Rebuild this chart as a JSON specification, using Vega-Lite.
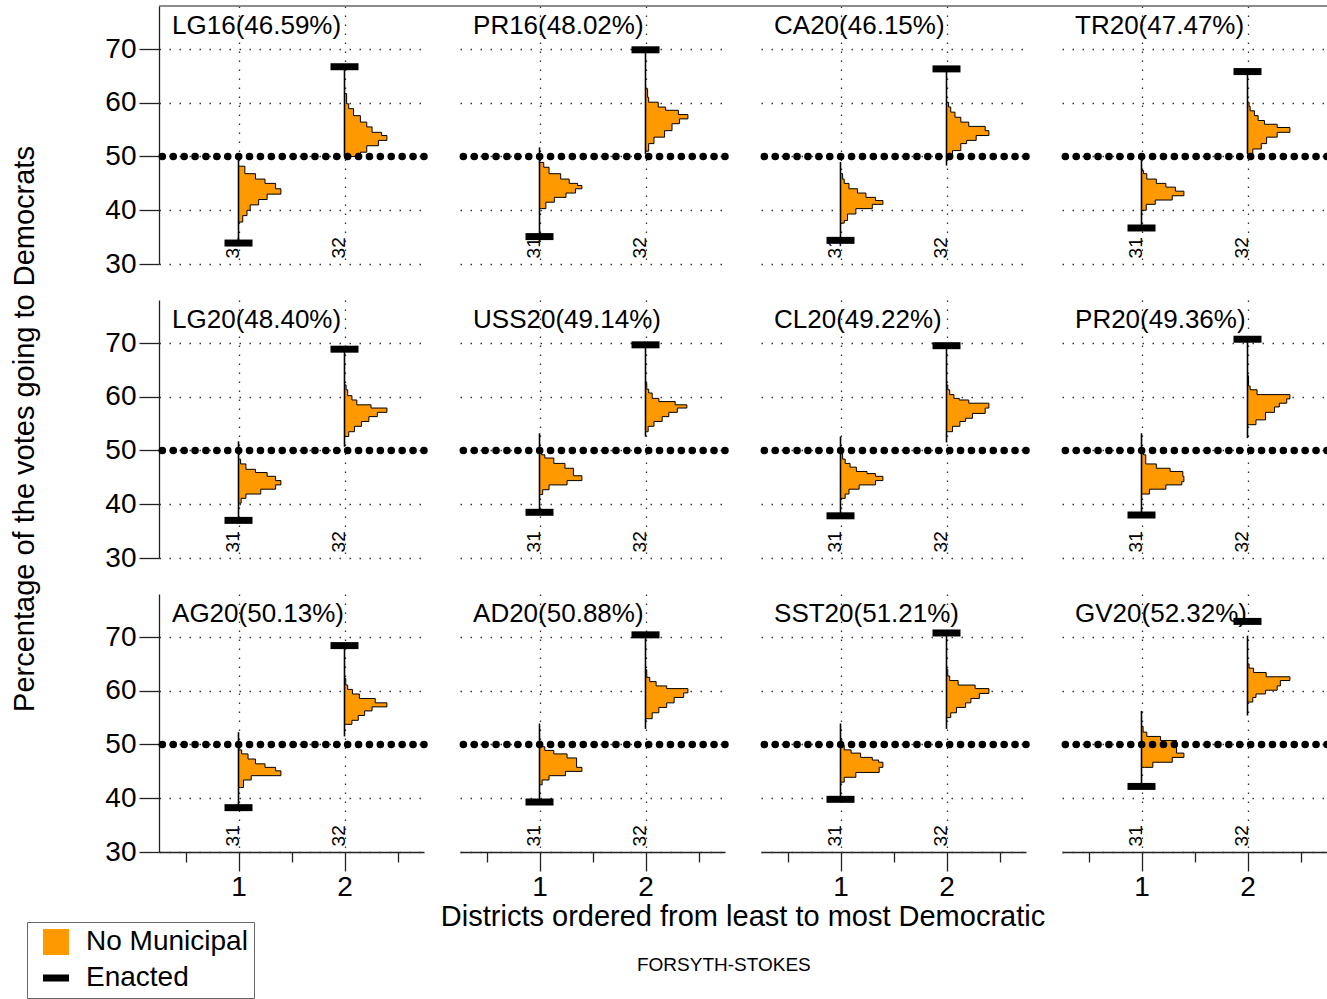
{
  "$schema": "https://vega.github.io/schema/vega-lite/v6.json",
  "autosize": {"type": "pad"},
  "padding": {"left": 10, "top": 5, "right": 0, "bottom": 0},
  "background": "white",
  "bounds": "flush",
  "config": {
    "view": {"stroke": null},
    "font": "Liberation Sans",
    "text": {"font": "Liberation Sans", "color": "black"}
  },
  "title": {"text": "FORSYTH-STOKES", "orient": "bottom", "frame": "bounds", "anchor": "middle", "fontSize": 19, "fontWeight": "normal", "font": "Liberation Sans", "color": "black", "offset": -43, "dx": 53},
  "data": {"values": [
    {"k":"p","r":1,"c":1,"t":"LG16(46.59%)"},{"k":"p","r":1,"c":2,"t":"PR16(48.02%)"},{"k":"p","r":1,"c":3,"t":"CA20(46.15%)"},{"k":"p","r":1,"c":4,"t":"TR20(47.47%)"},
    {"k":"p","r":2,"c":1,"t":"LG20(48.40%)"},{"k":"p","r":2,"c":2,"t":"USS20(49.14%)"},{"k":"p","r":2,"c":3,"t":"CL20(49.22%)"},{"k":"p","r":2,"c":4,"t":"PR20(49.36%)"},
    {"k":"p","r":3,"c":1,"t":"AG20(50.13%)"},{"k":"p","r":3,"c":2,"t":"AD20(50.88%)"},{"k":"p","r":3,"c":3,"t":"SST20(51.21%)"},{"k":"p","r":3,"c":4,"t":"GV20(52.32%)"},

    {"k":"d","r":1,"c":1,"d":1,"e":33.9,"lo":33.9,"hi":50.0,"lab":"31"},{"k":"d","r":1,"c":1,"d":2,"e":66.7,"lo":50.0,"hi":66.7,"lab":"32"},
    {"k":"d","r":1,"c":2,"d":1,"e":35.1,"lo":35.1,"hi":51.7,"lab":"31"},{"k":"d","r":1,"c":2,"d":2,"e":69.85,"lo":50.5,"hi":69.85,"lab":"32"},
    {"k":"d","r":1,"c":3,"d":1,"e":34.4,"lo":34.4,"hi":49.0,"lab":"31"},{"k":"d","r":1,"c":3,"d":2,"e":66.3,"lo":48.3,"hi":66.3,"lab":"32"},
    {"k":"d","r":1,"c":4,"d":1,"e":36.7,"lo":36.7,"hi":50.5,"lab":"31"},{"k":"d","r":1,"c":4,"d":2,"e":65.8,"lo":50.5,"hi":65.8,"lab":"32"},
    {"k":"d","r":2,"c":1,"d":1,"e":37.0,"lo":37.0,"hi":51.7,"lab":"31"},{"k":"d","r":2,"c":1,"d":2,"e":68.85,"lo":50.7,"hi":68.85,"lab":"32"},
    {"k":"d","r":2,"c":2,"d":1,"e":38.5,"lo":38.5,"hi":53.2,"lab":"31"},{"k":"d","r":2,"c":2,"d":2,"e":69.66,"lo":52.6,"hi":69.66,"lab":"32"},
    {"k":"d","r":2,"c":3,"d":1,"e":37.85,"lo":37.85,"hi":52.6,"lab":"31"},{"k":"d","r":2,"c":3,"d":2,"e":69.5,"lo":51.5,"hi":69.5,"lab":"32"},
    {"k":"d","r":2,"c":4,"d":1,"e":38.0,"lo":38.0,"hi":53.2,"lab":"31"},{"k":"d","r":2,"c":4,"d":2,"e":70.7,"lo":52.3,"hi":70.7,"lab":"32"},
    {"k":"d","r":3,"c":1,"d":1,"e":38.25,"lo":38.25,"hi":52.3,"lab":"31"},{"k":"d","r":3,"c":1,"d":2,"e":68.4,"lo":51.5,"hi":68.4,"lab":"32"},
    {"k":"d","r":3,"c":2,"d":1,"e":39.3,"lo":39.3,"hi":53.9,"lab":"31"},{"k":"d","r":3,"c":2,"d":2,"e":70.4,"lo":52.9,"hi":70.4,"lab":"32"},
    {"k":"d","r":3,"c":3,"d":1,"e":39.8,"lo":39.8,"hi":53.9,"lab":"31"},{"k":"d","r":3,"c":3,"d":2,"e":70.75,"lo":52.9,"hi":70.75,"lab":"32"},
    {"k":"d","r":3,"c":4,"d":1,"e":42.2,"lo":42.2,"hi":56.25,"lab":"31"},{"k":"d","r":3,"c":4,"d":2,"e":72.9,"lo":55.4,"hi":70.25,"lab":"32"},

    {"k":"h","r":1,"c":1,"d":1,"v":37.8,"w":0.015},{"k":"h","r":1,"c":1,"d":1,"v":39.0,"w":0.04},{"k":"h","r":1,"c":1,"d":1,"v":40.0,"w":0.08},{"k":"h","r":1,"c":1,"d":1,"v":41.0,"w":0.11},{"k":"h","r":1,"c":1,"d":1,"v":42.0,"w":0.19},{"k":"h","r":1,"c":1,"d":1,"v":43.0,"w":0.27},{"k":"h","r":1,"c":1,"d":1,"v":44.0,"w":0.40},{"k":"h","r":1,"c":1,"d":1,"v":45.0,"w":0.35},{"k":"h","r":1,"c":1,"d":1,"v":45.8,"w":0.25},{"k":"h","r":1,"c":1,"d":1,"v":46.8,"w":0.16},{"k":"h","r":1,"c":1,"d":1,"v":48.2,"w":0.06},{"k":"h","r":1,"c":1,"d":1,"v":49.3,"w":0},
    {"k":"h","r":1,"c":1,"d":2,"v":50.0,"w":0.07},{"k":"h","r":1,"c":1,"d":2,"v":50.8,"w":0.15},{"k":"h","r":1,"c":1,"d":2,"v":52.0,"w":0.21},{"k":"h","r":1,"c":1,"d":2,"v":53.0,"w":0.32},{"k":"h","r":1,"c":1,"d":2,"v":53.9,"w":0.40},{"k":"h","r":1,"c":1,"d":2,"v":54.5,"w":0.35},{"k":"h","r":1,"c":1,"d":2,"v":55.5,"w":0.26},{"k":"h","r":1,"c":1,"d":2,"v":56.4,"w":0.21},{"k":"h","r":1,"c":1,"d":2,"v":57.6,"w":0.15},{"k":"h","r":1,"c":1,"d":2,"v":58.9,"w":0.085},{"k":"h","r":1,"c":1,"d":2,"v":59.8,"w":0.04},{"k":"h","r":1,"c":1,"d":2,"v":61.7,"w":0.02},{"k":"h","r":1,"c":1,"d":2,"v":62.6,"w":0},

    {"k":"h","r":1,"c":2,"d":1,"v":40.3,"w":0.02},{"k":"h","r":1,"c":2,"d":1,"v":41.5,"w":0.06},{"k":"h","r":1,"c":2,"d":1,"v":42.4,"w":0.14},{"k":"h","r":1,"c":2,"d":1,"v":43.2,"w":0.25},{"k":"h","r":1,"c":2,"d":1,"v":44.0,"w":0.34},{"k":"h","r":1,"c":2,"d":1,"v":44.6,"w":0.40},{"k":"h","r":1,"c":2,"d":1,"v":45.0,"w":0.36},{"k":"h","r":1,"c":2,"d":1,"v":45.8,"w":0.28},{"k":"h","r":1,"c":2,"d":1,"v":46.8,"w":0.20},{"k":"h","r":1,"c":2,"d":1,"v":48.0,"w":0.09},{"k":"h","r":1,"c":2,"d":1,"v":48.9,"w":0.04},{"k":"h","r":1,"c":2,"d":1,"v":49.9,"w":0},
    {"k":"h","r":1,"c":2,"d":2,"v":51.0,"w":0.01},{"k":"h","r":1,"c":2,"d":2,"v":52.4,"w":0.03},{"k":"h","r":1,"c":2,"d":2,"v":53.6,"w":0.08},{"k":"h","r":1,"c":2,"d":2,"v":54.8,"w":0.18},{"k":"h","r":1,"c":2,"d":2,"v":56.1,"w":0.25},{"k":"h","r":1,"c":2,"d":2,"v":57.0,"w":0.32},{"k":"h","r":1,"c":2,"d":2,"v":57.8,"w":0.40},{"k":"h","r":1,"c":2,"d":2,"v":58.6,"w":0.31},{"k":"h","r":1,"c":2,"d":2,"v":59.2,"w":0.19},{"k":"h","r":1,"c":2,"d":2,"v":60.1,"w":0.12},{"k":"h","r":1,"c":2,"d":2,"v":61.0,"w":0.03},{"k":"h","r":1,"c":2,"d":2,"v":62.6,"w":0.02},{"k":"h","r":1,"c":2,"d":2,"v":63.8,"w":0},

    {"k":"h","r":1,"c":3,"d":1,"v":37.6,"w":0.01},{"k":"h","r":1,"c":3,"d":1,"v":38.1,"w":0.035},{"k":"h","r":1,"c":3,"d":1,"v":39.3,"w":0.066},{"k":"h","r":1,"c":3,"d":1,"v":40.3,"w":0.145},{"k":"h","r":1,"c":3,"d":1,"v":41.1,"w":0.30},{"k":"h","r":1,"c":3,"d":1,"v":41.8,"w":0.40},{"k":"h","r":1,"c":3,"d":1,"v":42.4,"w":0.33},{"k":"h","r":1,"c":3,"d":1,"v":43.2,"w":0.24},{"k":"h","r":1,"c":3,"d":1,"v":44.0,"w":0.16},{"k":"h","r":1,"c":3,"d":1,"v":45.0,"w":0.08},{"k":"h","r":1,"c":3,"d":1,"v":45.8,"w":0.035},{"k":"h","r":1,"c":3,"d":1,"v":46.8,"w":0.02},{"k":"h","r":1,"c":3,"d":1,"v":48.3,"w":0},
    {"k":"h","r":1,"c":3,"d":2,"v":49.9,"w":0.02},{"k":"h","r":1,"c":3,"d":2,"v":51.1,"w":0.057},{"k":"h","r":1,"c":3,"d":2,"v":52.4,"w":0.135},{"k":"h","r":1,"c":3,"d":2,"v":53.0,"w":0.19},{"k":"h","r":1,"c":3,"d":2,"v":53.9,"w":0.28},{"k":"h","r":1,"c":3,"d":2,"v":54.8,"w":0.40},{"k":"h","r":1,"c":3,"d":2,"v":55.6,"w":0.365},{"k":"h","r":1,"c":3,"d":2,"v":56.4,"w":0.21},{"k":"h","r":1,"c":3,"d":2,"v":57.3,"w":0.135},{"k":"h","r":1,"c":3,"d":2,"v":58.25,"w":0.08},{"k":"h","r":1,"c":3,"d":2,"v":59.2,"w":0.04},{"k":"h","r":1,"c":3,"d":2,"v":60.1,"w":0.02},{"k":"h","r":1,"c":3,"d":2,"v":61.0,"w":0},

    {"k":"h","r":1,"c":4,"d":1,"v":40.0,"w":0.015},{"k":"h","r":1,"c":4,"d":1,"v":41.1,"w":0.045},{"k":"h","r":1,"c":4,"d":1,"v":41.9,"w":0.13},{"k":"h","r":1,"c":4,"d":1,"v":42.7,"w":0.29},{"k":"h","r":1,"c":4,"d":1,"v":43.55,"w":0.40},{"k":"h","r":1,"c":4,"d":1,"v":44.3,"w":0.32},{"k":"h","r":1,"c":4,"d":1,"v":45.0,"w":0.23},{"k":"h","r":1,"c":4,"d":1,"v":45.8,"w":0.14},{"k":"h","r":1,"c":4,"d":1,"v":46.8,"w":0.05},{"k":"h","r":1,"c":4,"d":1,"v":47.4,"w":0.02},{"k":"h","r":1,"c":4,"d":1,"v":48.3,"w":0},
    {"k":"h","r":1,"c":4,"d":2,"v":50.5,"w":0.013},{"k":"h","r":1,"c":4,"d":2,"v":51.4,"w":0.05},{"k":"h","r":1,"c":4,"d":2,"v":52.4,"w":0.13},{"k":"h","r":1,"c":4,"d":2,"v":53.6,"w":0.18},{"k":"h","r":1,"c":4,"d":2,"v":54.5,"w":0.28},{"k":"h","r":1,"c":4,"d":2,"v":55.4,"w":0.40},{"k":"h","r":1,"c":4,"d":2,"v":56.0,"w":0.28},{"k":"h","r":1,"c":4,"d":2,"v":56.7,"w":0.16},{"k":"h","r":1,"c":4,"d":2,"v":57.6,"w":0.10},{"k":"h","r":1,"c":4,"d":2,"v":58.5,"w":0.066},{"k":"h","r":1,"c":4,"d":2,"v":59.3,"w":0.025},{"k":"h","r":1,"c":4,"d":2,"v":60.1,"w":0.015},{"k":"h","r":1,"c":4,"d":2,"v":61.0,"w":0},

    {"k":"h","r":2,"c":1,"d":1,"v":40.2,"w":0.01},{"k":"h","r":2,"c":1,"d":1,"v":41.1,"w":0.025},{"k":"h","r":2,"c":1,"d":1,"v":41.9,"w":0.07},{"k":"h","r":2,"c":1,"d":1,"v":42.8,"w":0.21},{"k":"h","r":2,"c":1,"d":1,"v":43.6,"w":0.35},{"k":"h","r":2,"c":1,"d":1,"v":44.4,"w":0.40},{"k":"h","r":2,"c":1,"d":1,"v":45.2,"w":0.35},{"k":"h","r":2,"c":1,"d":1,"v":45.9,"w":0.27},{"k":"h","r":2,"c":1,"d":1,"v":46.5,"w":0.16},{"k":"h","r":2,"c":1,"d":1,"v":47.5,"w":0.07},{"k":"h","r":2,"c":1,"d":1,"v":48.4,"w":0.02},{"k":"h","r":2,"c":1,"d":1,"v":49.5,"w":0},
    {"k":"h","r":2,"c":1,"d":2,"v":52.6,"w":0.013},{"k":"h","r":2,"c":1,"d":2,"v":53.5,"w":0.04},{"k":"h","r":2,"c":1,"d":2,"v":54.5,"w":0.094},{"k":"h","r":2,"c":1,"d":2,"v":55.4,"w":0.16},{"k":"h","r":2,"c":1,"d":2,"v":56.3,"w":0.23},{"k":"h","r":2,"c":1,"d":2,"v":57.1,"w":0.31},{"k":"h","r":2,"c":1,"d":2,"v":57.9,"w":0.40},{"k":"h","r":2,"c":1,"d":2,"v":58.5,"w":0.25},{"k":"h","r":2,"c":1,"d":2,"v":59.4,"w":0.116},{"k":"h","r":2,"c":1,"d":2,"v":60.2,"w":0.07},{"k":"h","r":2,"c":1,"d":2,"v":61.3,"w":0.03},{"k":"h","r":2,"c":1,"d":2,"v":62.2,"w":0.015},{"k":"h","r":2,"c":1,"d":2,"v":63.5,"w":0},

    {"k":"h","r":2,"c":2,"d":1,"v":41.8,"w":0.01},{"k":"h","r":2,"c":2,"d":1,"v":42.7,"w":0.03},{"k":"h","r":2,"c":2,"d":1,"v":43.6,"w":0.09},{"k":"h","r":2,"c":2,"d":1,"v":44.4,"w":0.26},{"k":"h","r":2,"c":2,"d":1,"v":45.3,"w":0.40},{"k":"h","r":2,"c":2,"d":1,"v":46.7,"w":0.32},{"k":"h","r":2,"c":2,"d":1,"v":47.6,"w":0.24},{"k":"h","r":2,"c":2,"d":1,"v":48.6,"w":0.135},{"k":"h","r":2,"c":2,"d":1,"v":49.2,"w":0.05},{"k":"h","r":2,"c":2,"d":1,"v":50.0,"w":0.02},{"k":"h","r":2,"c":2,"d":1,"v":50.7,"w":0},
    {"k":"h","r":2,"c":2,"d":2,"v":53.5,"w":0.01},{"k":"h","r":2,"c":2,"d":2,"v":54.5,"w":0.025},{"k":"h","r":2,"c":2,"d":2,"v":55.4,"w":0.08},{"k":"h","r":2,"c":2,"d":2,"v":56.3,"w":0.157},{"k":"h","r":2,"c":2,"d":2,"v":57.1,"w":0.22},{"k":"h","r":2,"c":2,"d":2,"v":57.9,"w":0.30},{"k":"h","r":2,"c":2,"d":2,"v":58.5,"w":0.39},{"k":"h","r":2,"c":2,"d":2,"v":59.1,"w":0.28},{"k":"h","r":2,"c":2,"d":2,"v":59.7,"w":0.126},{"k":"h","r":2,"c":2,"d":2,"v":60.7,"w":0.063},{"k":"h","r":2,"c":2,"d":2,"v":61.4,"w":0.03},{"k":"h","r":2,"c":2,"d":2,"v":62.5,"w":0.012},{"k":"h","r":2,"c":2,"d":2,"v":63.6,"w":0},

    {"k":"h","r":2,"c":3,"d":1,"v":41.1,"w":0.02},{"k":"h","r":2,"c":3,"d":1,"v":41.9,"w":0.044},{"k":"h","r":2,"c":3,"d":1,"v":42.8,"w":0.08},{"k":"h","r":2,"c":3,"d":1,"v":43.6,"w":0.176},{"k":"h","r":2,"c":3,"d":1,"v":44.4,"w":0.33},{"k":"h","r":2,"c":3,"d":1,"v":45.2,"w":0.40},{"k":"h","r":2,"c":3,"d":1,"v":45.7,"w":0.33},{"k":"h","r":2,"c":3,"d":1,"v":46.1,"w":0.25},{"k":"h","r":2,"c":3,"d":1,"v":46.9,"w":0.15},{"k":"h","r":2,"c":3,"d":1,"v":47.6,"w":0.09},{"k":"h","r":2,"c":3,"d":1,"v":48.4,"w":0.044},{"k":"h","r":2,"c":3,"d":1,"v":49.4,"w":0.02},{"k":"h","r":2,"c":3,"d":1,"v":50.1,"w":0},
    {"k":"h","r":2,"c":3,"d":2,"v":53.5,"w":0.02},{"k":"h","r":2,"c":3,"d":2,"v":54.5,"w":0.057},{"k":"h","r":2,"c":3,"d":2,"v":55.4,"w":0.126},{"k":"h","r":2,"c":3,"d":2,"v":56.0,"w":0.18},{"k":"h","r":2,"c":3,"d":2,"v":56.9,"w":0.245},{"k":"h","r":2,"c":3,"d":2,"v":57.9,"w":0.365},{"k":"h","r":2,"c":3,"d":2,"v":58.8,"w":0.40},{"k":"h","r":2,"c":3,"d":2,"v":59.4,"w":0.21},{"k":"h","r":2,"c":3,"d":2,"v":59.7,"w":0.12},{"k":"h","r":2,"c":3,"d":2,"v":60.4,"w":0.07},{"k":"h","r":2,"c":3,"d":2,"v":61.3,"w":0.03},{"k":"h","r":2,"c":3,"d":2,"v":62.2,"w":0.012},{"k":"h","r":2,"c":3,"d":2,"v":63.5,"w":0},

    {"k":"h","r":2,"c":4,"d":1,"v":41.9,"w":0.015},{"k":"h","r":2,"c":4,"d":1,"v":42.8,"w":0.075},{"k":"h","r":2,"c":4,"d":1,"v":43.6,"w":0.23},{"k":"h","r":2,"c":4,"d":1,"v":44.2,"w":0.38},{"k":"h","r":2,"c":4,"d":1,"v":45.2,"w":0.40},{"k":"h","r":2,"c":4,"d":1,"v":46.1,"w":0.39},{"k":"h","r":2,"c":4,"d":1,"v":46.7,"w":0.27},{"k":"h","r":2,"c":4,"d":1,"v":47.5,"w":0.14},{"k":"h","r":2,"c":4,"d":1,"v":49.2,"w":0.04},{"k":"h","r":2,"c":4,"d":1,"v":50.0,"w":0.02},{"k":"h","r":2,"c":4,"d":1,"v":50.7,"w":0},
    {"k":"h","r":2,"c":4,"d":2,"v":54.8,"w":0.02},{"k":"h","r":2,"c":4,"d":2,"v":55.7,"w":0.08},{"k":"h","r":2,"c":4,"d":2,"v":57.1,"w":0.17},{"k":"h","r":2,"c":4,"d":2,"v":58.1,"w":0.255},{"k":"h","r":2,"c":4,"d":2,"v":58.8,"w":0.30},{"k":"h","r":2,"c":4,"d":2,"v":59.6,"w":0.37},{"k":"h","r":2,"c":4,"d":2,"v":60.4,"w":0.40},{"k":"h","r":2,"c":4,"d":2,"v":61.3,"w":0.09},{"k":"h","r":2,"c":4,"d":2,"v":62.0,"w":0.025},{"k":"h","r":2,"c":4,"d":2,"v":63.9,"w":0.01},{"k":"h","r":2,"c":4,"d":2,"v":64.7,"w":0},

    {"k":"h","r":3,"c":1,"d":1,"v":42.0,"w":0.02},{"k":"h","r":3,"c":1,"d":1,"v":43.4,"w":0.047},{"k":"h","r":3,"c":1,"d":1,"v":44.2,"w":0.12},{"k":"h","r":3,"c":1,"d":1,"v":45.1,"w":0.40},{"k":"h","r":3,"c":1,"d":1,"v":45.75,"w":0.35},{"k":"h","r":3,"c":1,"d":1,"v":46.4,"w":0.25},{"k":"h","r":3,"c":1,"d":1,"v":47.3,"w":0.16},{"k":"h","r":3,"c":1,"d":1,"v":48.25,"w":0.09},{"k":"h","r":3,"c":1,"d":1,"v":49.0,"w":0.03},{"k":"h","r":3,"c":1,"d":1,"v":49.8,"w":0},
    {"k":"h","r":3,"c":1,"d":2,"v":53.75,"w":0.02},{"k":"h","r":3,"c":1,"d":2,"v":54.5,"w":0.07},{"k":"h","r":3,"c":1,"d":2,"v":55.4,"w":0.13},{"k":"h","r":3,"c":1,"d":2,"v":56.25,"w":0.19},{"k":"h","r":3,"c":1,"d":2,"v":57.0,"w":0.26},{"k":"h","r":3,"c":1,"d":2,"v":57.75,"w":0.40},{"k":"h","r":3,"c":1,"d":2,"v":58.56,"w":0.29},{"k":"h","r":3,"c":1,"d":2,"v":59.4,"w":0.14},{"k":"h","r":3,"c":1,"d":2,"v":60.25,"w":0.075},{"k":"h","r":3,"c":1,"d":2,"v":61.06,"w":0.03},{"k":"h","r":3,"c":1,"d":2,"v":62.3,"w":0.012},{"k":"h","r":3,"c":1,"d":2,"v":63.6,"w":0},

    {"k":"h","r":3,"c":2,"d":1,"v":42.5,"w":0.01},{"k":"h","r":3,"c":2,"d":1,"v":43.4,"w":0.025},{"k":"h","r":3,"c":2,"d":1,"v":44.2,"w":0.09},{"k":"h","r":3,"c":2,"d":1,"v":45.0,"w":0.245},{"k":"h","r":3,"c":2,"d":1,"v":45.75,"w":0.40},{"k":"h","r":3,"c":2,"d":1,"v":47.5,"w":0.35},{"k":"h","r":3,"c":2,"d":1,"v":48.25,"w":0.26},{"k":"h","r":3,"c":2,"d":1,"v":48.9,"w":0.135},{"k":"h","r":3,"c":2,"d":1,"v":49.6,"w":0.05},{"k":"h","r":3,"c":2,"d":1,"v":50.6,"w":0.02},{"k":"h","r":3,"c":2,"d":1,"v":51.4,"w":0},
    {"k":"h","r":3,"c":2,"d":2,"v":54.8,"w":0.025},{"k":"h","r":3,"c":2,"d":2,"v":55.9,"w":0.063},{"k":"h","r":3,"c":2,"d":2,"v":56.9,"w":0.126},{"k":"h","r":3,"c":2,"d":2,"v":57.75,"w":0.20},{"k":"h","r":3,"c":2,"d":2,"v":58.75,"w":0.27},{"k":"h","r":3,"c":2,"d":2,"v":59.6,"w":0.36},{"k":"h","r":3,"c":2,"d":2,"v":60.4,"w":0.40},{"k":"h","r":3,"c":2,"d":2,"v":60.9,"w":0.20},{"k":"h","r":3,"c":2,"d":2,"v":61.7,"w":0.10},{"k":"h","r":3,"c":2,"d":2,"v":62.5,"w":0.04},{"k":"h","r":3,"c":2,"d":2,"v":63.9,"w":0.012},{"k":"h","r":3,"c":2,"d":2,"v":64.8,"w":0},

    {"k":"h","r":3,"c":3,"d":1,"v":43.0,"w":0.012},{"k":"h","r":3,"c":3,"d":1,"v":43.9,"w":0.035},{"k":"h","r":3,"c":3,"d":1,"v":44.8,"w":0.145},{"k":"h","r":3,"c":3,"d":1,"v":45.75,"w":0.365},{"k":"h","r":3,"c":3,"d":1,"v":46.7,"w":0.40},{"k":"h","r":3,"c":3,"d":1,"v":47.1,"w":0.36},{"k":"h","r":3,"c":3,"d":1,"v":47.6,"w":0.30},{"k":"h","r":3,"c":3,"d":1,"v":48.4,"w":0.19},{"k":"h","r":3,"c":3,"d":1,"v":49.0,"w":0.10},{"k":"h","r":3,"c":3,"d":1,"v":49.8,"w":0.035},{"k":"h","r":3,"c":3,"d":1,"v":51.06,"w":0.012},{"k":"h","r":3,"c":3,"d":1,"v":51.7,"w":0},
    {"k":"h","r":3,"c":3,"d":2,"v":55.0,"w":0.013},{"k":"h","r":3,"c":3,"d":2,"v":55.9,"w":0.04},{"k":"h","r":3,"c":3,"d":2,"v":56.9,"w":0.094},{"k":"h","r":3,"c":3,"d":2,"v":57.75,"w":0.18},{"k":"h","r":3,"c":3,"d":2,"v":58.56,"w":0.23},{"k":"h","r":3,"c":3,"d":2,"v":59.5,"w":0.31},{"k":"h","r":3,"c":3,"d":2,"v":60.4,"w":0.40},{"k":"h","r":3,"c":3,"d":2,"v":61.06,"w":0.27},{"k":"h","r":3,"c":3,"d":2,"v":61.9,"w":0.11},{"k":"h","r":3,"c":3,"d":2,"v":62.75,"w":0.03},{"k":"h","r":3,"c":3,"d":2,"v":64.0,"w":0.012},{"k":"h","r":3,"c":3,"d":2,"v":65.1,"w":0},

    {"k":"h","r":3,"c":4,"d":1,"v":45.75,"w":0.03},{"k":"h","r":3,"c":4,"d":1,"v":46.7,"w":0.107},{"k":"h","r":3,"c":4,"d":1,"v":47.6,"w":0.29},{"k":"h","r":3,"c":4,"d":1,"v":48.4,"w":0.40},{"k":"h","r":3,"c":4,"d":1,"v":50.75,"w":0.33},{"k":"h","r":3,"c":4,"d":1,"v":51.5,"w":0.18},{"k":"h","r":3,"c":4,"d":1,"v":52.3,"w":0.05},{"k":"h","r":3,"c":4,"d":1,"v":53.4,"w":0.015},{"k":"h","r":3,"c":4,"d":1,"v":54.2,"w":0},
    {"k":"h","r":3,"c":4,"d":2,"v":57.9,"w":0.013},{"k":"h","r":3,"c":4,"d":2,"v":58.75,"w":0.05},{"k":"h","r":3,"c":4,"d":2,"v":59.4,"w":0.08},{"k":"h","r":3,"c":4,"d":2,"v":60.1,"w":0.17},{"k":"h","r":3,"c":4,"d":2,"v":60.9,"w":0.28},{"k":"h","r":3,"c":4,"d":2,"v":61.9,"w":0.31},{"k":"h","r":3,"c":4,"d":2,"v":62.6,"w":0.40},{"k":"h","r":3,"c":4,"d":2,"v":63.4,"w":0.176},{"k":"h","r":3,"c":4,"d":2,"v":64.2,"w":0.057},{"k":"h","r":3,"c":4,"d":2,"v":65.0,"w":0.015},{"k":"h","r":3,"c":4,"d":2,"v":66.7,"w":0}
  ]},
  "facet": {
    "row": {"field": "r", "type": "ordinal", "title": "Percentage of the votes going to Democrats",
      "header": {"labels": false, "titleFontSize": 29, "titleFontWeight": "normal", "titleFont": "Liberation Sans", "titleColor": "black", "titlePadding": 54}},
    "column": {"field": "c", "type": "ordinal", "title": "Districts ordered from least to most Democratic",
      "header": {"labels": false, "titleOrient": "bottom", "titleFontSize": 29, "titleFontWeight": "normal", "titleFont": "Liberation Sans", "titleColor": "black", "titlePadding": -8}}
  },
  "spacing": {"row": 36, "column": 36},
  "spec": {
    "width": 265,
    "height": 258,
    "layer": [
      {
        "transform": [{"filter": "datum.k === 'p' && datum.r === 1 && datum.c < 4"}],
        "mark": {"type": "rule", "color": "#666666", "strokeWidth": 1.6},
        "encoding": {
          "x": {"datum": 0.25, "type": "quantitative"},
          "x2": {"datum": 3.09},
          "y": {"datum": 78, "type": "quantitative"}
        }
      },
      {
        "transform": [{"filter": "datum.k === 'p' && datum.r === 1 && datum.c === 4"}],
        "mark": {"type": "rule", "color": "#666666", "strokeWidth": 1.6},
        "encoding": {
          "x": {"datum": 0.25, "type": "quantitative"},
          "x2": {"datum": 2.75},
          "y": {"datum": 78, "type": "quantitative"}
        }
      },
      {
        "transform": [{"filter": "datum.k === 'p'"}],
        "mark": {"type": "text", "align": "left", "baseline": "middle", "fontSize": 26, "font": "Liberation Sans", "color": "black"},
        "encoding": {
          "x": {"datum": 0.373, "type": "quantitative"},
          "y": {"datum": 74.3, "type": "quantitative"},
          "text": {"field": "t"}
        }
      },
      {
        "transform": [{"filter": "datum.k === 'h'"}, {"calculate": "datum.d + datum.w", "as": "xe"}],
        "mark": {"type": "area", "orient": "horizontal", "interpolate": "step-before", "stroke": "black", "strokeWidth": 1, "fillOpacity": 1},
        "encoding": {
          "x": {"field": "xe", "type": "quantitative", "title": null,
            "scale": {"domain": [0.25, 2.75], "nice": false, "zero": false},
            "axis": {"values": [0.5, 1, 1.5, 2, 2.5],
              "labelExpr": "datum.value % 1 === 0 ? '' + datum.value : ''",
              "tickSize": {"condition": {"test": "datum.value % 1 === 0", "value": 19}, "value": 10},
              "labelFontSize": 28, "labelFont": "Liberation Sans", "labelColor": "black", "labelPadding": 2,
              "tickColor": "#222222", "tickWidth": 1.3, "domainColor": "#222222", "domainWidth": 1.3,
              "grid": true, "gridDash": [1.5, 7.5], "gridColor": "#333333", "gridWidth": 1.3,
              "gridOpacity": {"condition": {"test": "datum.value % 1 === 0", "value": 1}, "value": 0}}},
          "x2": {"field": "d"},
          "y": {"field": "v", "type": "quantitative", "title": null,
            "scale": {"domain": [30, 78], "nice": false, "zero": false},
            "axis": {"values": [30, 35, 40, 45, 50, 55, 60, 65, 70, 75],
              "labelExpr": "datum.value % 10 === 0 ? '' + datum.value : ''",
              "tickSize": {"condition": {"test": "datum.value % 10 === 0", "value": 20}, "value": 10},
              "labelFontSize": 28, "labelFont": "Liberation Sans", "labelColor": "black", "labelPadding": 3,
              "tickColor": "#222222", "tickWidth": 1.3, "domainColor": "#222222", "domainWidth": 1.3,
              "grid": true, "gridDash": [1.5, 8.5], "gridColor": "#333333", "gridWidth": 1.3,
              "gridOpacity": {"condition": {"test": "datum.value % 10 === 0", "value": 1}, "value": 0}}},
          "detail": {"field": "d"},
          "color": {"datum": "No Municipal", "type": "nominal",
            "scale": {"domain": ["No Municipal", "Enacted"], "range": ["#FF9900", "#000000"]},
            "legend": {"orient": "none", "legendX": -132, "legendY": 916, "title": null,
              "labelFontSize": 28, "labelFont": "Liberation Sans", "labelColor": "black", "labelLimit": 400,
              "symbolType": {"expr": "datum.value === 'Enacted' ? 'M-1,-0.27L1,-0.27L1,0.27L-1,0.27Z' : 'square'"},
              "symbolStrokeWidth": 0,
              "symbolSize": 676, "symbolOffset": 9, "labelOffset": 16, "rowPadding": 8, "padding": 6,
              "strokeColor": "#666666", "fillColor": "white"}}
        }
      },
      {
        "transform": [{"filter": "datum.k === 'p'"}],
        "mark": {"type": "rule", "color": "black", "strokeWidth": 7.5, "strokeDash": [0.1, 10.8], "strokeCap": "round"},
        "encoding": {"y": {"datum": 50, "type": "quantitative"}}
      },
      {
        "transform": [{"filter": "datum.k === 'd'"}],
        "mark": {"type": "rule", "color": "black", "strokeWidth": 1.6},
        "encoding": {
          "x": {"field": "d", "type": "quantitative", "title": null},
          "y": {"field": "lo", "type": "quantitative", "title": null},
          "y2": {"field": "hi"}
        }
      },
      {
        "transform": [{"filter": "datum.k === 'd'"}],
        "mark": {"type": "text", "angle": 270, "align": "center", "baseline": "alphabetic", "fontSize": 19, "font": "Liberation Sans", "color": "black"},
        "encoding": {
          "x": {"field": "d", "type": "quantitative", "title": null},
          "y": {"datum": 33, "type": "quantitative"},
          "text": {"field": "lab"}
        }
      },
      {
        "transform": [{"filter": "datum.k === 'd'"}],
        "mark": {"type": "tick", "orient": "horizontal", "size": 28, "thickness": 7, "opacity": 1},
        "encoding": {
          "x": {"field": "d", "type": "quantitative", "title": null},
          "y": {"field": "e", "type": "quantitative", "title": null},
          "color": {"datum": "Enacted", "type": "nominal",
            "legend": {"orient": "none", "legendX": -132, "legendY": 916, "title": null,
              "labelFontSize": 28, "labelFont": "Liberation Sans", "labelColor": "black", "labelLimit": 400,
              "symbolType": {"expr": "datum.value === 'Enacted' ? 'M-1,-0.27L1,-0.27L1,0.27L-1,0.27Z' : 'square'"},
              "symbolStrokeWidth": 0,
              "symbolSize": 676, "symbolOffset": 9, "labelOffset": 16, "rowPadding": 8, "padding": 6,
              "strokeColor": "#666666", "fillColor": "white"}}
        }
      }
    ]
  }
}
